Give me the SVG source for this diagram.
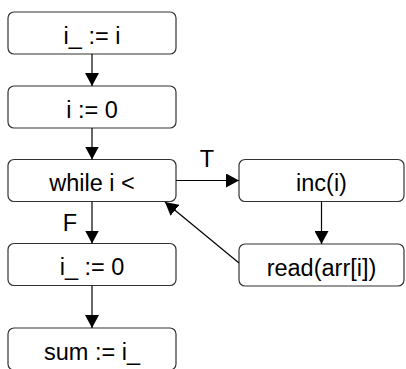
<svg xmlns="http://www.w3.org/2000/svg" width="406" height="369" viewBox="0 0 406 369">
<style>
.box{fill:#fff;stroke:#333;stroke-width:1.2}
.t{font-family:"Liberation Sans",Arial,sans-serif;font-size:23.5px;fill:#000;text-anchor:middle}
.c{stroke:#000;stroke-width:1.2;fill:none}
</style>
<defs>
<marker id="ah" markerWidth="13" markerHeight="14" refX="13" refY="7" orient="auto" markerUnits="userSpaceOnUse">
<path d="M0,0 L13,7 L0,14 Z" fill="#000"/>
</marker>
</defs>
<rect width="406" height="369" fill="#fff"/>
<g id="n1"><rect class="box" x="8" y="12" width="168" height="42" rx="6"/><text class="t" x="92" y="43.5">i_ := i</text></g>
<g id="n2"><rect class="box" x="8" y="86" width="168" height="42" rx="6"/><text class="t" x="92" y="117.5">i := 0</text></g>
<g id="n3"><rect class="box" x="8" y="159.5" width="168" height="42" rx="6"/><text class="t" x="92" y="191">while i &lt;</text></g>
<g id="n4"><rect class="box" x="239" y="159.5" width="165" height="42" rx="6"/><text class="t" x="321.5" y="191">inc(i)</text></g>
<g id="n5"><rect class="box" x="239" y="244" width="165" height="42" rx="6"/><text class="t" x="321.5" y="275.5">read(arr[i])</text></g>
<g id="n6"><rect class="box" x="8" y="243.5" width="168" height="42" rx="6"/><text class="t" x="92" y="275">i_ := 0</text></g>
<g id="n7"><rect class="box" x="8" y="328" width="168" height="42" rx="6"/><text class="t" x="92" y="359.5">sum := i_</text></g>
<g id="edges">
<line class="c" x1="92" y1="54" x2="92" y2="86" marker-end="url(#ah)"/>
<line class="c" x1="92" y1="128" x2="92" y2="159.5" marker-end="url(#ah)"/>
<line class="c" x1="176" y1="180.5" x2="239" y2="180.5" marker-end="url(#ah)"/>
<text class="t" x="207" y="167">T</text>
<line class="c" x1="321.5" y1="201.5" x2="321.5" y2="244" marker-end="url(#ah)"/>
<line class="c" x1="239" y1="263" x2="165" y2="202" marker-end="url(#ah)"/>
<line class="c" x1="92" y1="201.5" x2="92" y2="243.5" marker-end="url(#ah)"/>
<text class="t" x="70" y="230.5">F</text>
<line class="c" x1="92" y1="285.5" x2="92" y2="328" marker-end="url(#ah)"/>
</g>
</svg>
